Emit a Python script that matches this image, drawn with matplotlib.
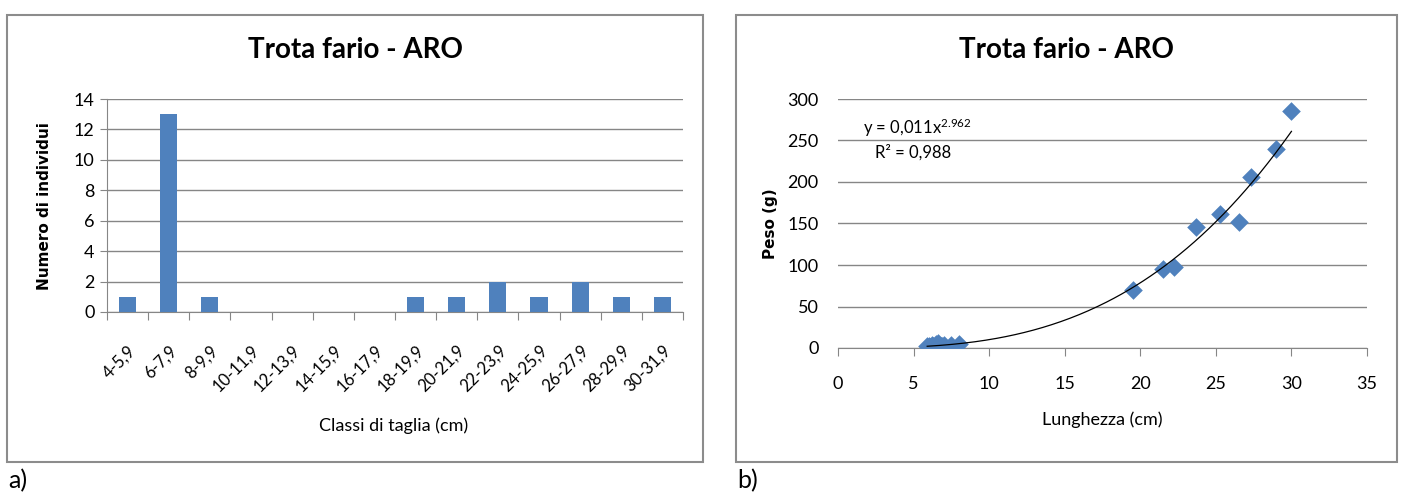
import matplotlib.pyplot as plt
from matplotlib.patches import Rectangle
import numpy as np

plt.rcParams['font.family'] = ['Lato', 'DejaVu Sans']
plt.rcParams['mathtext.fontset'] = 'custom'
plt.rcParams['mathtext.rm'] = 'Lato'
plt.rcParams['mathtext.it'] = 'Lato'

# --- dati ---
classi = ['4-5,9', '6-7,9', '8-9,9', '10-11,9', '12-13,9', '14-15,9', '16-17,9',
          '18-19,9', '20-21,9', '22-23,9', '24-25,9', '26-27,9', '28-29,9', '30-31,9']
n_individui = [1, 13, 1, 0, 0, 0, 0, 1, 1, 2, 1, 2, 1, 1]

lunghezza = [5.9, 6.0, 6.1, 6.2, 6.3, 6.4, 6.5, 6.5, 6.6, 6.7, 6.8, 6.9, 7.0, 7.5, 8.0,
             19.5, 21.5, 22.2, 23.7, 25.3, 26.5, 27.3, 29.0, 30.0]
peso = [2, 3, 1, 4, 2, 3, 5, 1, 6, 4, 3, 2, 4, 4, 5,
        70, 95, 98, 146, 162, 152, 206, 240, 285]

# trendline di potenza (Excel): y = a * x^b
coef_a = 0.011
coef_b = 2.962

BLU = '#4F81BD'
GRIGIO = '#868686'

W, H = 1402, 496
fig = plt.figure(figsize=(W / 100, H / 100), dpi=100)


def px(x0, y0, x1, y1):
    # rettangolo in pixel (origine in alto a sinistra) -> coordinate figura
    return [x0 / W, 1 - y1 / H, (x1 - x0) / W, (y1 - y0) / H]


# cornici dei due grafici
for (x0, y0, x1, y1) in [(7, 15, 703, 462), (736, 15, 1397, 462)]:
    fig.patches.append(Rectangle((x0 / W, 1 - y1 / H), (x1 - x0) / W, (y1 - y0) / H,
                                 transform=fig.transFigure, fill=False,
                                 edgecolor='#8c8c8c', linewidth=1.5))

# --- a) istogramma classi di taglia ---
g1 = fig.add_axes(px(107, 99, 683, 312))
pos = np.arange(len(classi))
g1.bar(pos, n_individui, width=0.42, color=BLU, zorder=3)
g1.set_xlim(-0.5, len(classi) - 0.5)
g1.set_ylim(0, 14)
g1.set_yticks(range(0, 15, 2))
g1.yaxis.grid(True, color=GRIGIO, linewidth=1, zorder=0)
g1.set_xticks(np.arange(-0.5, len(classi), 1))
g1.set_xticklabels([])
g1.set_xticks(pos, minor=True)
g1.set_xticklabels(classi, minor=True, rotation=45, ha='right', va='top',
                   rotation_mode='anchor', fontsize=12)
g1.tick_params(axis='x', which='major', length=6, color=GRIGIO, direction='out')
g1.tick_params(axis='x', which='minor', length=0, pad=22)
g1.tick_params(axis='y', length=5, color=GRIGIO, labelsize=13, pad=4)
for s in ['top', 'right']:
    g1.spines[s].set_visible(False)
g1.spines['left'].set_color(GRIGIO)
g1.spines['bottom'].set_color(GRIGIO)

fig.text(355 / W, 1 - 50 / H, 'Trota fario - ARO', ha='center', va='center',
         fontsize=20, fontweight='bold')
fig.text(394 / W, 1 - 426 / H, 'Classi di taglia (cm)', ha='center', va='center', fontsize=13)
fig.text(45 / W, 1 - 206 / H, 'Numero di individui', ha='center', va='center',
         rotation=90, fontsize=11, fontweight='bold', family='DejaVu Sans')
fig.text(8 / W, 1 - 481 / H, 'a)', ha='left', va='center', fontsize=18)

# --- b) relazione lunghezza-peso ---
g2 = fig.add_axes(px(838, 99, 1367, 348))
g2.scatter(lunghezza, peso, marker='D', s=90, color=BLU, zorder=3, linewidths=0)
xf = np.linspace(min(lunghezza), max(lunghezza), 200)
g2.plot(xf, coef_a * xf ** coef_b, color='black', linewidth=0.9, zorder=4)
g2.set_xlim(0, 35)
g2.set_ylim(0, 300)
g2.set_xticks(range(0, 36, 5))
g2.set_yticks(range(0, 301, 50))
g2.yaxis.grid(True, color=GRIGIO, linewidth=1, zorder=0)
g2.tick_params(axis='x', length=6, color=GRIGIO, labelsize=13, pad=14)
g2.tick_params(axis='y', length=0, labelsize=13, pad=14)
for s in ['top', 'right', 'left']:
    g2.spines[s].set_visible(False)
g2.spines['bottom'].set_color(GRIGIO)

g2.text(917 / W, 1 - 128 / H, 'y = 0,011x$^{2.962}$', transform=fig.transFigure,
        ha='center', va='center', fontsize=12)
g2.text(913 / W, 1 - 152 / H, 'R² = 0,988', transform=fig.transFigure,
        ha='center', va='center', fontsize=12)

fig.text(1066 / W, 1 - 50 / H, 'Trota fario - ARO', ha='center', va='center',
         fontsize=20, fontweight='bold')
fig.text(1102 / W, 1 - 420 / H, 'Lunghezza (cm)', ha='center', va='center', fontsize=13)
fig.text(771 / W, 1 - 224 / H, 'Peso (g)', ha='center', va='center',
         rotation=90, fontsize=11, fontweight='bold', family='DejaVu Sans')
fig.text(737 / W, 1 - 481 / H, 'b)', ha='left', va='center', fontsize=18)

fig.savefig('out.png', dpi=100)
